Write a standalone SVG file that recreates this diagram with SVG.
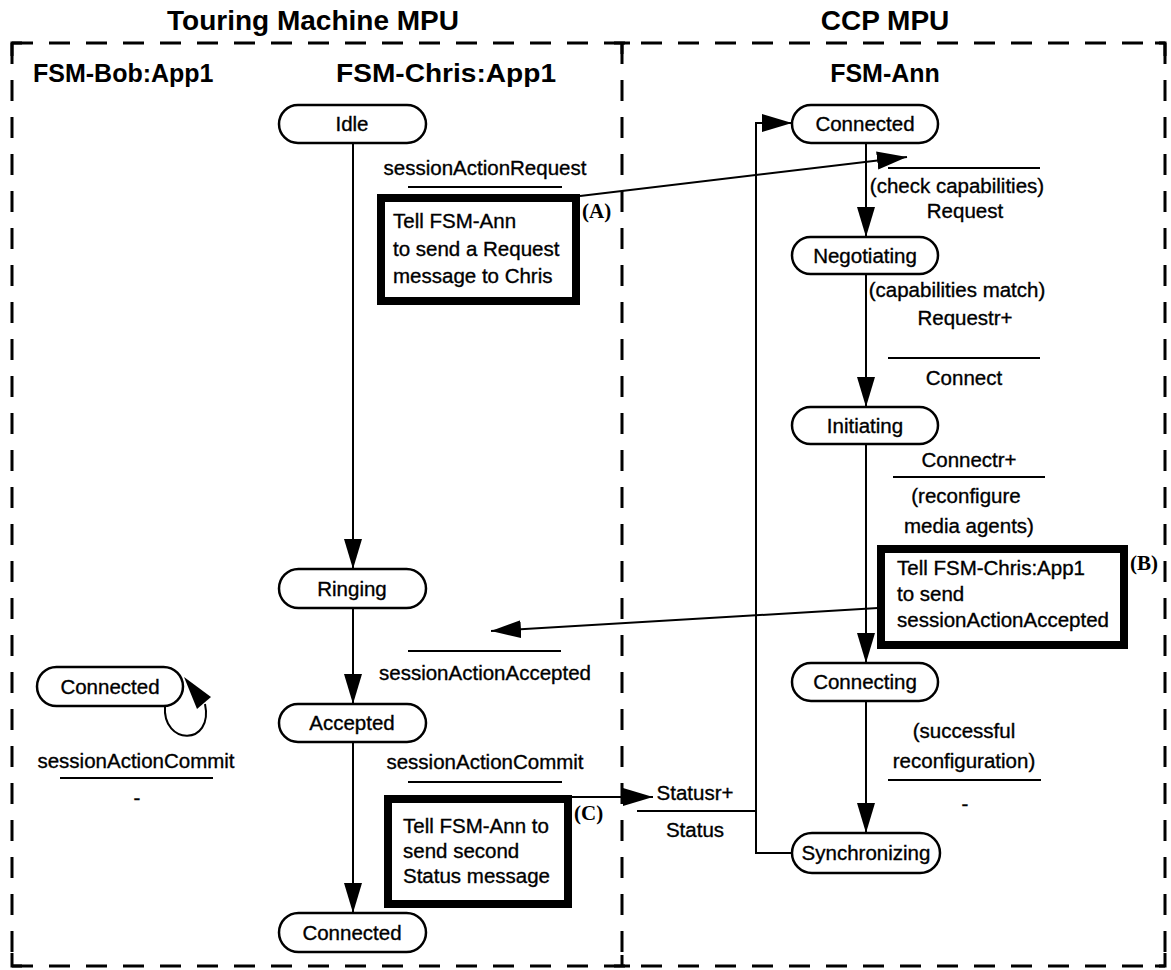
<svg xmlns="http://www.w3.org/2000/svg" width="1171" height="970" viewBox="0 0 1171 970">
  <style>
    .title { font-family: "Liberation Sans", Arial, sans-serif; font-weight: bold; font-size: 28px; fill: #000; }
    .head { font-family: "Liberation Sans", Arial, sans-serif; font-weight: bold; font-size: 25px; fill: #000; }
    .lbl { font-family: "Liberation Sans", Arial, sans-serif; font-size: 20.5px; fill: #000; stroke: #000; stroke-width: 0.35; }
    .tag { font-family: "Liberation Serif", "Times New Roman", serif; font-weight: bold; font-size: 21px; fill: #000; }
    .state { fill: #fff; stroke: #000; stroke-width: 2.5; }
    .action { fill: #fff; stroke: #000; stroke-width: 8; }
    .frame { fill: none; stroke: #000; stroke-width: 3; stroke-dasharray: 21 16; }
    .edge { fill: none; stroke: #000; stroke-width: 2; }
    .bar { stroke: #000; stroke-width: 2; }
    .head-fill { fill: #000; }
  </style>
  <defs>
    <marker id="arrow" viewBox="0 0 30 20" refX="30" refY="10" markerWidth="30" markerHeight="20" markerUnits="userSpaceOnUse" orient="auto">
      <path d="M0,1 L30,10 L0,19 Z" fill="#000"/>
    </marker>
  </defs>

  <rect width="1171" height="970" fill="#fff"/>

  <!-- processor frames -->
  <g id="frames">
    <text class="title" x="313" y="30" text-anchor="middle">Touring Machine MPU</text>
    <text class="title" x="885" y="30" text-anchor="middle">CCP MPU</text>
    <line class="frame" x1="12" y1="43" x2="1165" y2="43"/>
    <line class="frame" x1="12" y1="966" x2="1165" y2="966"/>
    <line class="frame" x1="12" y1="43" x2="12" y2="966"/>
    <line class="frame" x1="1165" y1="43" x2="1165" y2="966"/>
    <line class="frame" x1="622" y1="43" x2="622" y2="966"/>
    <!-- solid corners and junctions -->
    <path d="M12,56 V43 H22 M1155,43 H1165 V56 M12,953 V966 H22 M1155,966 H1165 V953 M614,43 H630 M622,43 V54 M614,966 H630 M622,966 V955" fill="none" stroke="#000" stroke-width="3"/>
  </g>

  <!-- machine headings -->
  <g id="headings">
    <text class="head" x="33" y="82">FSM-Bob:App1</text>
    <text class="head" x="336" y="82" textLength="220" lengthAdjust="spacingAndGlyphs">FSM-Chris:App1</text>
    <text class="head" x="885" y="82" text-anchor="middle">FSM-Ann</text>
  </g>

  <!-- transitions -->
  <g id="connectors">
    <!-- FSM-Chris:App1 -->
    <line class="edge" x1="353" y1="143" x2="353" y2="569" marker-end="url(#arrow)"/>
    <line class="edge" x1="353" y1="608" x2="353" y2="704" marker-end="url(#arrow)"/>
    <line class="edge" x1="353" y1="742" x2="353" y2="913" marker-end="url(#arrow)"/>
    <!-- FSM-Ann -->
    <line class="edge" x1="866" y1="143" x2="866" y2="237" marker-end="url(#arrow)"/>
    <line class="edge" x1="866" y1="273" x2="866" y2="407" marker-end="url(#arrow)"/>
    <line class="edge" x1="866" y1="443" x2="866" y2="663" marker-end="url(#arrow)"/>
    <line class="edge" x1="866" y1="701" x2="866" y2="833" marker-end="url(#arrow)"/>
    <polyline class="edge" points="792,853 756,853 756,123 792,123" marker-end="url(#arrow)"/>
    <!-- FSM-Bob:App1 self transition -->
    <path class="edge" d="M165,706 C162,746 214,746 205,704"/>
    <polygon class="head-fill" points="184,677 211,697 197,709"/>
    <!-- messages between machines -->
    <line class="edge" x1="580" y1="196" x2="907" y2="157" marker-end="url(#arrow)"/>
    <line class="edge" x1="878" y1="608" x2="491" y2="631" marker-end="url(#arrow)"/>
    <line class="edge" x1="572" y1="797" x2="653" y2="797" marker-end="url(#arrow)"/>
    <line class="bar" x1="637" y1="811" x2="756" y2="811"/>
  </g>

  <!-- FSM-Bob:App1 states -->
  <g id="bob-connected">
    <rect class="state" x="37" y="667" width="146" height="39" rx="19.5"/>
    <text class="lbl" x="110" y="694" text-anchor="middle">Connected</text>
  </g>
  <g id="bob-commit-label">
    <text class="lbl" x="136" y="768" text-anchor="middle">sessionActionCommit</text>
    <line class="bar" x1="60" y1="778" x2="213" y2="778"/>
    <text class="lbl" x="137" y="805" text-anchor="middle">-</text>
  </g>

  <!-- FSM-Chris:App1 states -->
  <g id="chris-idle">
    <rect class="state" x="279" y="105" width="147" height="38" rx="19"/>
    <text class="lbl" x="352" y="131" text-anchor="middle">Idle</text>
  </g>
  <g id="chris-ringing">
    <rect class="state" x="279" y="569" width="147" height="39" rx="19.5"/>
    <text class="lbl" x="352" y="596" text-anchor="middle">Ringing</text>
  </g>
  <g id="chris-accepted">
    <rect class="state" x="279" y="704" width="147" height="38" rx="19"/>
    <text class="lbl" x="352" y="730" text-anchor="middle">Accepted</text>
  </g>
  <g id="chris-connected">
    <rect class="state" x="279" y="913" width="147" height="39" rx="19.5"/>
    <text class="lbl" x="352" y="940" text-anchor="middle">Connected</text>
  </g>

  <!-- FSM-Chris:App1 transition labels and actions -->
  <g id="chris-request-label">
    <text class="lbl" x="485" y="175" text-anchor="middle">sessionActionRequest</text>
    <line class="bar" x1="408" y1="187" x2="562" y2="187"/>
  </g>
  <g id="action-a">
    <rect class="action" x="381" y="198" width="195" height="103"/>
    <text class="lbl" x="393" y="228">Tell FSM-Ann</text>
    <text class="lbl" x="393" y="256">to send a Request</text>
    <text class="lbl" x="393" y="283">message to Chris</text>
    <text class="tag" x="582" y="218">(A)</text>
  </g>
  <g id="chris-accepted-label">
    <line class="bar" x1="408" y1="651" x2="561" y2="651"/>
    <text class="lbl" x="485" y="680" text-anchor="middle">sessionActionAccepted</text>
  </g>
  <g id="chris-commit-label">
    <text class="lbl" x="485" y="769" text-anchor="middle">sessionActionCommit</text>
    <line class="bar" x1="408" y1="782" x2="562" y2="782"/>
  </g>
  <g id="action-c">
    <rect class="action" x="388" y="799" width="180" height="105"/>
    <text class="lbl" x="403" y="833">Tell FSM-Ann to</text>
    <text class="lbl" x="403" y="858">send second</text>
    <text class="lbl" x="403" y="883">Status message</text>
    <text class="tag" x="574" y="820">(C)</text>
  </g>

  <!-- FSM-Ann states -->
  <g id="ann-connected">
    <rect class="state" x="792" y="105" width="146" height="38" rx="19"/>
    <text class="lbl" x="865" y="131" text-anchor="middle">Connected</text>
  </g>
  <g id="ann-negotiating">
    <rect class="state" x="792" y="237" width="146" height="37" rx="18.5"/>
    <text class="lbl" x="865" y="263" text-anchor="middle">Negotiating</text>
  </g>
  <g id="ann-initiating">
    <rect class="state" x="792" y="407" width="146" height="37" rx="18.5"/>
    <text class="lbl" x="865" y="433" text-anchor="middle">Initiating</text>
  </g>
  <g id="ann-connecting">
    <rect class="state" x="792" y="663" width="146" height="38" rx="19"/>
    <text class="lbl" x="865" y="689" text-anchor="middle">Connecting</text>
  </g>
  <g id="ann-synchronizing">
    <rect class="state" x="792" y="833" width="148" height="40" rx="20"/>
    <text class="lbl" x="866" y="860" text-anchor="middle">Synchronizing</text>
  </g>

  <!-- FSM-Ann transition labels and actions -->
  <g id="ann-request-label">
    <line class="bar" x1="888" y1="168" x2="1040" y2="168"/>
    <text class="lbl" x="957" y="193" text-anchor="middle">(check capabilities)</text>
    <text class="lbl" x="965" y="218" text-anchor="middle">Request</text>
  </g>
  <g id="ann-match-label">
    <text class="lbl" x="957" y="297" text-anchor="middle">(capabilities match)</text>
    <text class="lbl" x="965" y="325" text-anchor="middle">Requestr+</text>
    <line class="bar" x1="888" y1="358" x2="1040" y2="358"/>
    <text class="lbl" x="964" y="385" text-anchor="middle">Connect</text>
  </g>
  <g id="ann-connect-label">
    <text class="lbl" x="969" y="467" text-anchor="middle">Connectr+</text>
    <line class="bar" x1="893" y1="477" x2="1045" y2="477"/>
    <text class="lbl" x="966" y="503" text-anchor="middle">(reconfigure</text>
    <text class="lbl" x="969" y="533" text-anchor="middle">media agents)</text>
  </g>
  <g id="action-b">
    <rect class="action" x="881" y="549" width="243" height="96"/>
    <text class="lbl" x="897" y="575">Tell FSM-Chris:App1</text>
    <text class="lbl" x="897" y="601">to send</text>
    <text class="lbl" x="897" y="627">sessionActionAccepted</text>
    <text class="tag" x="1130" y="570">(B)</text>
  </g>
  <g id="ann-reconfig-label">
    <text class="lbl" x="964" y="738" text-anchor="middle">(successful</text>
    <text class="lbl" x="964" y="768" text-anchor="middle">reconfiguration)</text>
    <line class="bar" x1="888" y1="780" x2="1041" y2="780"/>
    <text class="lbl" x="965" y="811" text-anchor="middle">-</text>
  </g>
  <g id="ann-status-label">
    <text class="lbl" x="695" y="800" text-anchor="middle">Statusr+</text>
    <text class="lbl" x="695" y="837" text-anchor="middle">Status</text>
  </g>
</svg>
